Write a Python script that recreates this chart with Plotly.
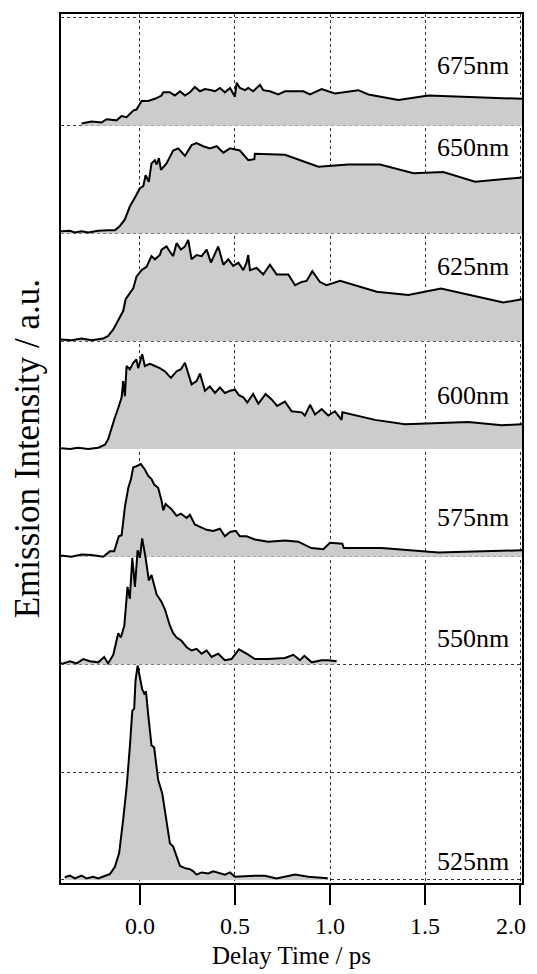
import plotly.graph_objects as go

# ---------------- data (delay time in ps, intensity in a.u., each panel normalised) -------------
wavelengths = ["675nm", "650nm", "625nm", "600nm", "575nm", "550nm", "525nm"]

t_675 = [-0.307, -0.254, -0.202, -0.175, -0.123, -0.096, -0.070, -0.035, -0.018, 0.009, 0.044, 0.079,
         0.114, 0.123, 0.158, 0.184, 0.211, 0.237, 0.263, 0.289, 0.316, 0.342, 0.377, 0.395, 0.421,
         0.447, 0.474, 0.500, 0.509, 0.526, 0.553, 0.570, 0.596, 0.632, 0.649, 0.684, 0.728, 0.763,
         0.860, 0.895, 0.956, 1.026, 1.149, 1.202, 1.360, 1.518, 2.01]
i_675 = [0.02, 0.04, 0.03, 0.06, 0.05, 0.09, 0.08, 0.14, 0.15, 0.23, 0.23, 0.25,
         0.28, 0.31, 0.31, 0.28, 0.32, 0.28, 0.31, 0.36, 0.32, 0.34, 0.33, 0.32, 0.35,
         0.31, 0.35, 0.27, 0.40, 0.35, 0.33, 0.35, 0.32, 0.38, 0.33, 0.32, 0.29, 0.32,
         0.32, 0.29, 0.34, 0.30, 0.33, 0.29, 0.24, 0.28, 0.25]

t_650 = [-0.415, -0.404, -0.368, -0.342, -0.307, -0.272, -0.219, -0.167, -0.132, -0.105, -0.079, -0.053,
         -0.035, -0.018, 0.000, 0.018, 0.030, 0.047, 0.061, 0.079, 0.088, 0.100, 0.111, 0.140,
         0.175, 0.202, 0.237, 0.272, 0.298, 0.333, 0.368, 0.404, 0.439, 0.474, 0.526, 0.570,
         0.602, 0.605, 0.763, 0.939, 1.096, 1.263, 1.439, 1.596, 1.763, 2.01]
i_650 = [0.02, 0.02, 0.025, 0.01, 0.02, 0.01, 0.025, 0.03, 0.03, 0.07, 0.13, 0.25,
         0.30, 0.36, 0.42, 0.44, 0.54, 0.48, 0.65, 0.68, 0.64, 0.70, 0.59, 0.65,
         0.77, 0.79, 0.72, 0.82, 0.84, 0.81, 0.79, 0.81, 0.75, 0.79, 0.77, 0.68,
         0.69, 0.74, 0.73, 0.62, 0.64, 0.64, 0.56, 0.57, 0.48, 0.52]

t_625 = [-0.415, -0.404, -0.360, -0.307, -0.254, -0.193, -0.167, -0.140, -0.114, -0.088, -0.075, -0.053,
         -0.035, -0.018, 0.009, 0.035, 0.061, 0.079, 0.105, 0.114, 0.140, 0.158, 0.175, 0.193,
         0.216, 0.237, 0.254, 0.272, 0.298, 0.325, 0.351, 0.374, 0.391, 0.412, 0.439, 0.465,
         0.491, 0.518, 0.544, 0.561, 0.570, 0.579, 0.614, 0.649, 0.684, 0.719, 0.781, 0.816,
         0.851, 0.877, 0.907, 0.947, 0.982, 1.053, 1.246, 1.412, 1.584, 1.912, 2.01]
i_625 = [0.015, 0.015, 0.01, 0.025, 0.01, 0.025, 0.05, 0.11, 0.19, 0.28, 0.39, 0.45,
         0.49, 0.60, 0.66, 0.69, 0.79, 0.76, 0.80, 0.85, 0.88, 0.83, 0.79, 0.91,
         0.85, 0.88, 0.94, 0.76, 0.80, 0.79, 0.85, 0.73, 0.80, 0.88, 0.71, 0.76,
         0.70, 0.73, 0.66, 0.73, 0.80, 0.66, 0.68, 0.62, 0.71, 0.62, 0.62, 0.52,
         0.55, 0.56, 0.65, 0.55, 0.52, 0.56, 0.46, 0.43, 0.49, 0.36, 0.39]

t_600 = [-0.415, -0.404, -0.368, -0.325, -0.272, -0.219, -0.184, -0.167, -0.149, -0.132, -0.114, -0.096,
         -0.088, -0.079, -0.070, -0.053, -0.035, -0.018, -0.009, 0.012, 0.026, 0.053, 0.079, 0.105,
         0.132, 0.163, 0.193, 0.216, 0.237, 0.254, 0.272, 0.298, 0.316, 0.342, 0.368, 0.395,
         0.421, 0.447, 0.474, 0.500, 0.521, 0.544, 0.565, 0.596, 0.623, 0.661, 0.693, 0.722,
         0.763, 0.798, 0.851, 0.868, 0.895, 0.921, 0.956, 0.991, 1.026, 1.061, 1.065, 1.237,
         1.395, 1.728, 1.904, 2.01]
i_600 = [0.006, 0.006, 0.0, 0.012, 0.0, 0.012, 0.04, 0.09, 0.20, 0.29, 0.38, 0.48,
         0.63, 0.49, 0.77, 0.74, 0.80, 0.83, 0.75, 0.88, 0.77, 0.79, 0.77, 0.75,
         0.72, 0.66, 0.72, 0.74, 0.80, 0.71, 0.60, 0.63, 0.70, 0.54, 0.58, 0.52,
         0.57, 0.52, 0.54, 0.55, 0.50, 0.48, 0.43, 0.51, 0.42, 0.51, 0.46, 0.40,
         0.44, 0.35, 0.34, 0.31, 0.41, 0.32, 0.37, 0.31, 0.35, 0.27, 0.34, 0.27,
         0.23, 0.25, 0.22, 0.23]

t_575 = [-0.415, -0.404, -0.360, -0.307, -0.254, -0.193, -0.158, -0.135, -0.111, -0.096, -0.079, -0.061,
         -0.047, -0.035, -0.018, 0.005, 0.026, 0.044, 0.061, 0.075, 0.096, 0.114, 0.123, 0.135,
         0.167, 0.193, 0.216, 0.246, 0.263, 0.289, 0.325, 0.351, 0.386, 0.421, 0.447, 0.474,
         0.504, 0.526, 0.561, 0.605, 0.675, 0.763, 0.833, 0.902, 0.965, 1.000, 1.065, 1.072,
         1.272, 1.412, 1.570, 2.01]
i_575 = [0.01, 0.01, 0.0, 0.02, 0.015, 0.0, 0.05, 0.05, 0.19, 0.20, 0.46, 0.64,
         0.72, 0.83, 0.84, 0.86, 0.81, 0.75, 0.72, 0.67, 0.64, 0.52, 0.43, 0.49,
         0.44, 0.38, 0.40, 0.36, 0.39, 0.30, 0.27, 0.25, 0.24, 0.26, 0.19, 0.23,
         0.24, 0.19, 0.19, 0.16, 0.14, 0.15, 0.14, 0.08, 0.07, 0.13, 0.12, 0.08,
         0.08, 0.06, 0.04, 0.06]

t_550 = [-0.415, -0.404, -0.368, -0.333, -0.298, -0.263, -0.219, -0.188, -0.167, -0.140, -0.114, -0.100,
         -0.082, -0.065, -0.053, -0.040, -0.026, -0.012, 0.000, 0.012, 0.030, 0.047, 0.061, 0.088,
         0.114, 0.132, 0.158, 0.175, 0.193, 0.219, 0.246, 0.272, 0.298, 0.325, 0.351, 0.377,
         0.412, 0.447, 0.482, 0.521, 0.561, 0.605, 0.675, 0.763, 0.807, 0.842, 0.865, 0.904,
         0.956, 0.991, 1.035]
i_550 = [0.01, 0.01, 0.03, 0.01, 0.05, 0.03, 0.02, 0.07, 0.01, 0.09, 0.29, 0.25,
         0.36, 0.72, 0.61, 0.99, 0.72, 1.06, 0.99, 1.17, 0.99, 0.78, 0.83, 0.65,
         0.58, 0.51, 0.36, 0.29, 0.25, 0.22, 0.16, 0.13, 0.145, 0.10, 0.13, 0.07,
         0.10, 0.04, 0.05, 0.14, 0.10, 0.05, 0.05, 0.06, 0.09, 0.04, 0.08, 0.02,
         0.04, 0.04, 0.03]

t_525 = [-0.395, -0.368, -0.342, -0.307, -0.281, -0.246, -0.219, -0.184, -0.158, -0.132, -0.109, -0.088,
         -0.070, -0.053, -0.040, -0.030, -0.023, -0.012, 0.000, 0.012, 0.023, 0.032, 0.044, 0.061,
         0.075, 0.096, 0.118, 0.140, 0.158, 0.175, 0.193, 0.211, 0.237, 0.263, 0.281, 0.298,
         0.325, 0.360, 0.386, 0.421, 0.447, 0.474, 0.500, 0.605, 0.658, 0.719, 0.816, 0.886,
         0.988]
i_525 = [0.025, 0.04, 0.015, 0.04, 0.015, 0.03, 0.015, 0.04, 0.055, 0.12, 0.25, 0.56,
         0.86, 1.23, 1.57, 1.59, 1.85, 1.99, 1.88, 1.77, 1.73, 1.75, 1.53, 1.25,
         1.23, 0.93, 0.80, 0.56, 0.34, 0.31, 0.22, 0.13, 0.11, 0.10, 0.08, 0.05,
         0.07, 0.06, 0.08, 0.06, 0.05, 0.07, 0.03, 0.04, 0.04, 0.015, 0.05, 0.03,
         0.015]

series_t = [t_675, t_650, t_625, t_600, t_575, t_550, t_525]
series_i = [i_675, i_650, i_625, i_600, i_575, i_550, i_525]
baselines = [7, 6, 5, 4, 3, 2, 0]          # vertical offset of each trace
label_y = [7.56, 6.80, 5.69, 4.50, 3.36, 2.24, 0.17]

x_ticks = [0.0, 0.5, 1.0, 1.5, 2.0]
x_ticklabels = ["0.0", "0.5", "1.0", "1.5", "2.0"]

# ---------------- figure ----------------
FONT = "Liberation Serif, Times New Roman, serif"
fig = go.Figure()

for name, t, inten, base in zip(wavelengths, series_t, series_i, baselines):
    y = [v + base for v in inten]
    # filled area between baseline and trace
    fig.add_trace(go.Scatter(
        x=t + [t[-1], t[0]], y=y + [base, base],
        mode="lines", fill="toself", fillcolor="#cccccc",
        line=dict(width=0, color="#cccccc"), hoverinfo="skip", showlegend=False))
    # trace line
    fig.add_trace(go.Scatter(
        x=t, y=y, mode="lines", name=name,
        line=dict(color="black", width=2), showlegend=False))

for name, ly in zip(wavelengths, label_y):
    fig.add_annotation(x=1.95, y=ly, text=name, showarrow=False,
                       xanchor="right", yanchor="middle",
                       font=dict(family=FONT, size=26, color="black"))

fig.add_annotation(xref="paper", yref="paper", x=-0.072, y=0.5,
                   text="Emission Intensity / a.u.", textangle=-90, showarrow=False,
                   xanchor="center", yanchor="middle",
                   font=dict(family=FONT, size=35, color="black"))
fig.add_annotation(xref="paper", yref="paper", x=0.5, y=-0.084,
                   text="Delay Time / ps", showarrow=False,
                   xanchor="center", yanchor="middle",
                   font=dict(family=FONT, size=25, color="black"))

# last tick label is drawn as an annotation, right-aligned so it stays inside the visible page
tick_text_axis = x_ticklabels[:-1] + [""]
fig.add_annotation(xref="paper", yref="paper", x=1.014, y=-0.049,
                   text=x_ticklabels[-1], showarrow=False,
                   xanchor="right", yanchor="middle",
                   font=dict(family=FONT, size=24, color="black"))

fig.update_xaxes(range=[-0.415, 2.01], tickvals=x_ticks, ticktext=tick_text_axis,
                 ticks="outside", ticklen=20, tickwidth=2, tickcolor="black",
                 showline=True, linecolor="black", linewidth=2, mirror=True,
                 showgrid=True, gridcolor="#333", griddash="dot", gridwidth=1,
                 zeroline=False, tickfont=dict(family=FONT, size=24, color="black"))
fig.update_yaxes(range=[-0.028, 8.037], dtick=1, tick0=0,
                 showticklabels=False, ticks="",
                 showline=True, linecolor="black", linewidth=2, mirror=True,
                 showgrid=True, gridcolor="#333", griddash="dot", gridwidth=1,
                 zeroline=False)

# page body adds an 8px offset, so margins are trimmed accordingly
fig.update_layout(width=537, height=974, margin=dict(l=53, r=23, t=4, b=99),
                  plot_bgcolor="white", paper_bgcolor="white",
                  font=dict(family=FONT, color="black"))

fig.write_html("out.html")
